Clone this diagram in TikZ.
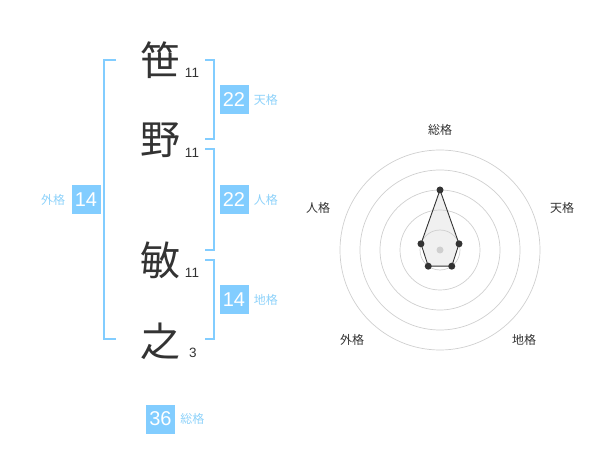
\documentclass[tikz,border=0pt]{standalone}
\usepackage{fontspec}
\setmainfont{Liberation Sans}
\newfontfamily\jpfont{Noto Sans CJK JP}
\usepackage{xcolor}
\usetikzlibrary{positioning,calc}
\definecolor{kakublue}{HTML}{82CDFF}
\definecolor{labelblue}{HTML}{8ED2FA}
\definecolor{inkgray}{HTML}{333333}
\definecolor{ringgray}{HTML}{CFCFCF}
\tikzset{
  kanji/.style={font=\jpfont\fontsize{40}{42}\selectfont,text=inkgray,inner sep=0pt},
  strokes/.style={font=\fontsize{13.5}{14}\selectfont,text=inkgray,inner sep=0pt},
  kakubox/.style={fill=kakublue,text=white,minimum size=29pt,inner sep=0pt,font=\fontsize{20}{21}\selectfont},
  kakulabel/.style={text=labelblue,font=\jpfont\fontsize{12}{13}\selectfont,inner sep=0pt},
  bracket/.style={draw=kakublue,line width=1.6pt},
  ring/.style={draw=ringgray,line width=0.7pt},
  axislabel/.style={text=inkgray,font=\jpfont\fontsize{12}{13}\selectfont,inner sep=0pt},
  radarpt/.style={circle,fill=inkgray,inner sep=0pt,minimum size=7pt}
}

\begin{document}
\begin{tikzpicture}[x=1pt,y=-1pt]
  \useasboundingbox (0,0) rectangle (600,470);
  % name and stroke counts
  \node[kanji] (c1) at (160,60) {笹};
  \node[kanji] (c2) at (160,140) {野};
  \node[kanji] (c3) at (160,260) {敏};
  \node[kanji] (c4) at (160,341) {之};
  \node[strokes] (n1) at (192,73) {11};
  \node[strokes] (n2) at (192,153) {11};
  \node[strokes] (n3) at (192,273) {11};
  \node[strokes] (n4) at (193,353) {3};
  % brackets
  \draw[bracket] (116,60) -| (104,339) -- (116,339);
  \draw[bracket] (205,60) -| (214,139) -- (205,139);
  \draw[bracket] (205,149) -| (214,250) -- (205,250);
  \draw[bracket] (205,260) -| (214,339) -- (205,339);
  % boxes
  \node[kakubox] (ten) at (234,100) {22};
  \node[kakulabel,right=5pt of ten] (tenlab) {天格};
  \node[kakubox] (jin) at (234,200) {22};
  \node[kakulabel,right=5pt of jin] (jinlab) {人格};
  \node[kakubox] (chi) at (234,300) {14};
  \node[kakulabel,right=5pt of chi] (chilab) {地格};
  \node[kakubox] (gai) at (86,200) {14};
  \node[kakulabel,left=6pt of gai] (gailab) {外格};
  \node[kakubox] (sou) at (160.5,419) {36};
  \node[kakulabel,right=5pt of sou] (soulab) {総格};
  % radar
  \begin{scope}[shift={(440,250)},y=1pt]
    \foreach \a/\r/\n in {90/60/sou,18/20/ten,-54/20/chi,234/20/gai,162/20/jin}{
      \coordinate (p\n) at (\a:\r);
    }
    \fill[gray!12] (psou) -- (pten) -- (pchi) -- (pgai) -- (pjin) -- cycle;
    \foreach \r in {20,40,...,100}{\draw[ring] (0,0) circle[radius=\r];}
    \draw[inkgray,line width=0.9pt] (psou) -- (pten) -- (pchi) -- (pgai) -- (pjin) -- cycle;
    \fill[ringgray] (0,0) circle[radius=3.5];
    \foreach \n in {sou,ten,chi,gai,jin}{\node[radarpt] (d\n) at (p\n) {};}
    \node[axislabel] (asou) at (0,120) {総格};
    \node[axislabel] (aten) at (122,42) {天格};
    \node[axislabel] (ajin) at (-122,42) {人格};
    \node[axislabel] (achi) at (84,-90) {地格};
    \node[axislabel] (agai) at (-88,-90) {外格};
  \end{scope}
\end{tikzpicture}
\end{document}
